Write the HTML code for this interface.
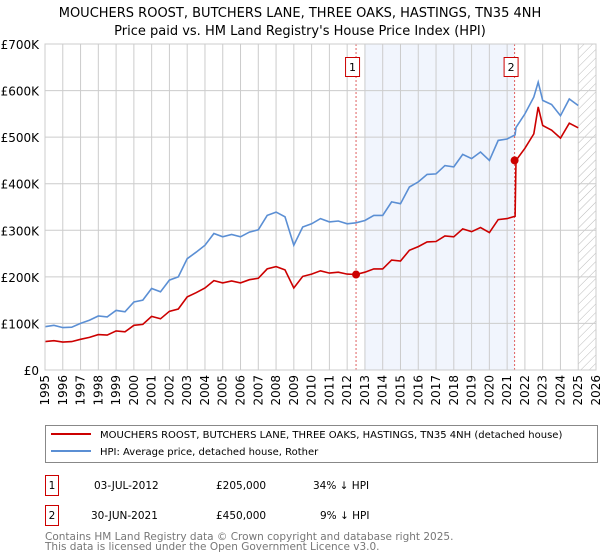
<!DOCTYPE html>
<html><head><meta charset="utf-8"><style>
body{margin:0;background:#fff;font-family:"Liberation Sans","DejaVu Sans",sans-serif;}
svg{display:block}
</style></head><body>
<svg id="chart" width="600" height="560" xmlns="http://www.w3.org/2000/svg" font-family="DejaVu Sans, Liberation Sans, sans-serif">
<text x="300" y="17" text-anchor="middle" font-size="13" fill="#000">MOUCHERS ROOST, BUTCHERS LANE, THREE OAKS, HASTINGS, TN35 4NH</text>
<text x="300" y="35" text-anchor="middle" font-size="13" fill="#000">Price paid vs. HM Land Registry's House Price Index (HPI)</text>
<g id="plot"></g>
<g>
<rect x="45.5" y="425.5" width="552" height="37" fill="#fff" stroke="#888"/>
<line x1="51" y1="434" x2="91" y2="434" stroke="#cc0000" stroke-width="2"/>
<text x="100" y="438" font-size="10">MOUCHERS ROOST, BUTCHERS LANE, THREE OAKS, HASTINGS, TN35 4NH (detached house)</text>
<line x1="51" y1="451" x2="91" y2="451" stroke="#5b8fd4" stroke-width="2"/>
<text x="100" y="455" font-size="10">HPI: Average price, detached house, Rother</text>
</g>
<g font-size="10.5">
<rect x="45.5" y="475.5" width="13" height="20" fill="#fff" stroke="#cc0000"/><text x="52" y="489" text-anchor="middle">1</text>
<text x="94" y="489">03-JUL-2012</text><text x="216" y="489">£205,000</text><text x="313" y="489">34% ↓ HPI</text>
<rect x="45.5" y="505.5" width="13" height="20" fill="#fff" stroke="#cc0000"/><text x="52" y="519" text-anchor="middle">2</text>
<text x="91" y="519">30-JUN-2021</text><text x="216" y="519">£450,000</text><text x="320" y="519">9% ↓ HPI</text>
</g>
<text x="45" y="540" font-size="10.5" fill="#777">Contains HM Land Registry data © Crown copyright and database right 2025.</text>
<text x="45" y="550" font-size="10.5" fill="#777">This data is licensed under the Open Government Licence v3.0.</text>
</svg>
<script>
const times=[1995,1995.5,1996,1996.5,1997,1997.5,1998,1998.5,1999,1999.5,2000,2000.5,2001,2001.5,2002,2002.5,2003,2003.5,2004,2004.5,2005,2005.5,2006,2006.5,2007,2007.5,2008,2008.5,2009,2009.5,2010,2010.5,2011,2011.5,2012,2012.5,2013,2013.5,2014,2014.5,2015,2015.5,2016,2016.5,2017,2017.5,2018,2018.5,2019,2019.5,2020,2020.5,2021,2021.45,2021.5,2022,2022.5,2022.75,2023,2023.5,2024,2024.5,2025];
const hpiValues=[93,96,91,92,100,107,116,114,128,125,146,150,175,168,193,200,239,253,268,293,286,291,286,296,301,332,339,329,268,307,314,325,318,320,314,316,321,332,332,361,357,393,404,420,421,439,436,463,454,468,450,493,496,505,521,550,586,618,579,570,546,582,568];
const priceValues=[61,63,60,61,66,70,76,75,84,82,96,98,115,110,126,131,157,166,176,192,187,191,187,194,197,217,222,215,176,201,206,213,208,210,206,205,210,217,217,236,234,257,265,275,276,288,286,303,297,306,295,323,325,330,450,476,507,565,525,515,498,530,520];
const yTicks=[0,100,200,300,400,500,600,700];
const yTickLabels=["£0","£100K","£200K","£300K","£400K","£500K","£600K","£700K"];
const xYears=[1995,1996,1997,1998,1999,2000,2001,2002,2003,2004,2005,2006,2007,2008,2009,2010,2011,2012,2013,2014,2015,2016,2017,2018,2019,2020,2021,2022,2023,2024,2025,2026];
const sales=[{t:2012.5,v:205,label:"1"},{t:2021.42,v:450,label:"2"}];
const L=45,R=596,T=44,B=370;
const xs=t=>L+(t-1995)/(2026-1995)*(R-L);
const ys=v=>B-v/700*(B-T);
const NS="http://www.w3.org/2000/svg";
const g=document.getElementById('plot');
function mk(tag,attrs,parent){const e=document.createElementNS(NS,tag);for(const k in attrs)e.setAttribute(k,attrs[k]);(parent||g).appendChild(e);return e;}
let sh=mk('rect',{x:xs(2013),y:T,width:xs(sales[1].t)-xs(2013),height:B-T,fill:'#eef3fc',opacity:0.8});


const defs=mk('defs',{});
const pat=mk('pattern',{id:'hatch',width:6,height:6,patternUnits:'userSpaceOnUse',patternTransform:'rotate(45)'},defs);
mk('line',{x1:0,y1:0,x2:0,y2:6,stroke:'#bbb','stroke-width':1},pat);
let ht=mk('rect',{x:xs(2025),y:T,width:R-xs(2025),height:B-T,fill:'url(#hatch)'});


xYears.forEach(yr=>{const l=mk('line',{x1:xs(yr),x2:xs(yr),y1:T,y2:B,stroke:'#ccc','stroke-width':1});


const x=xs(yr)+4,y=375;
const t=mk('text',{x:x,y:y,'text-anchor':'end','font-size':12,transform:`rotate(-90 ${x} ${y})`});t.textContent=yr;

});
yTicks.forEach((v,i)=>{const l=mk('line',{x1:L,x2:R,y1:ys(v),y2:ys(v),stroke:'#ccc','stroke-width':1});


const t=mk('text',{x:39,y:ys(v)+5,'text-anchor':'end','font-size':12});t.textContent=yTickLabels[i];

});
sales.forEach(s=>{const l=mk('line',{x1:xs(s.t),x2:xs(s.t),y1:T,y2:B,stroke:'#e06060','stroke-width':1,'stroke-dasharray':'2,2'});


const r=mk('rect',{x:xs(s.t)-10.5,y:57.5,width:14,height:19,fill:'#fff',stroke:'#cc0000'});


const t=mk('text',{x:xs(s.t)-3.5,y:71,'text-anchor':'middle','font-size':11});t.textContent=s.label;

});
const pts=arr=>arr.map((v,i)=>xs(times[i]).toFixed(1)+','+ys(v).toFixed(1)).join(' ');
const hl=mk('polyline',{points:pts(hpiValues),fill:'none',stroke:'#5b8fd4','stroke-width':1.6});


const pl=mk('polyline',{points:pts(priceValues),fill:'none',stroke:'#cc0000','stroke-width':1.6});


sales.forEach(s=>{const c=mk('circle',{cx:xs(s.t),cy:ys(s.v),r:4,fill:'#cc0000'});

});
const fr=mk('rect',{x:L,y:T,width:R-L,height:B-T,fill:'none',stroke:'#ccc'});


</script>
</body></html>
